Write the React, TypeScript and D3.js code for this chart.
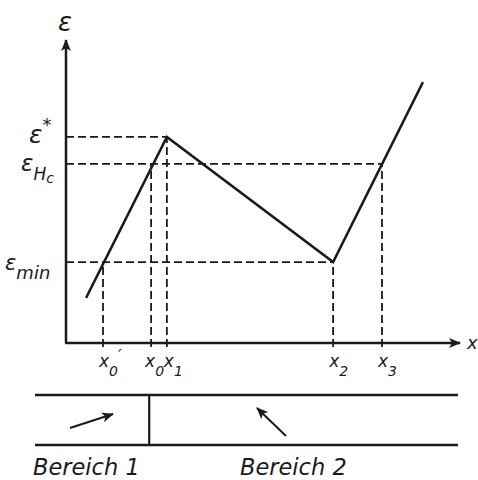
import * as d3 from "d3";
import React, { useEffect, useRef } from "react";

// curve of epsilon over x (abstract units, 0..100 on both axes)
const curveX = [5.1, 25.6, 67.8, 90.6];
const curveY = [14.9, 68, 26.7, 86.1];

// named positions on the x axis: [base, subscript, prime]
const tickNames: [string, string, string][] = [
    ["x", "0", "′"],
    ["x", "0", ""],
    ["x", "1", ""],
    ["x", "2", ""],
    ["x", "3", ""],
];
const tickX = [9.4, 21.6, 25.6, 67.8, 80.2];
const tickY = [26.7, 59.1, 68, 26.7, 59.1]; // height the dashed vertical goes up to

// levels on the epsilon axis
const levelY = [68, 59.1, 26.7];
const levelEndX = [25.6, 80.2, 67.8];

// lower strip: boundary between the two regions
const regionBoundary = 27;
const regionNames = ["Bereich 1", "Bereich 2"];

const FONT = "'DejaVu Sans', sans-serif";

const App = () => {
    const svgRef = useRef<SVGSVGElement>(null);

    useEffect(() => {
        const width = 478;
        const height = 480;

        const svg = d3.select(svgRef.current);
        svg.selectAll("*").remove();
        svg.attr("width", width).attr("height", height);

        const x = d3.scaleLinear().domain([0, 100]).range([66, 460]);
        const y = d3.scaleLinear().domain([0, 100]).range([343, 40]);

        const ink = "#1a1a1a";
        const dash = "8,4";

        // arrow heads
        const defs = svg.append("defs");
        defs.append("marker")
            .attr("id", "arrow")
            .attr("viewBox", "0 0 12 10")
            .attr("refX", 11)
            .attr("refY", 5)
            .attr("markerWidth", 12)
            .attr("markerHeight", 10)
            .attr("markerUnits", "userSpaceOnUse")
            .attr("orient", "auto")
            .append("path")
            .attr("d", "M0,0 L12,5 L0,10 L3,5 Z")
            .attr("fill", ink);

        // axes
        svg.append("line")
            .attr("x1", x(0)).attr("y1", y(0))
            .attr("x2", x(0)).attr("y2", y(100))
            .attr("stroke", ink).attr("stroke-width", 2.5)
            .attr("marker-end", "url(#arrow)");
        svg.append("line")
            .attr("x1", x(0) - 1).attr("y1", y(0))
            .attr("x2", x(100)).attr("y2", y(0))
            .attr("stroke", ink).attr("stroke-width", 2.5)
            .attr("marker-end", "url(#arrow)");

        // dashed helper lines
        levelY.forEach((v, i) => {
            svg.append("line")
                .attr("x1", x(0)).attr("y1", y(v))
                .attr("x2", x(levelEndX[i])).attr("y2", y(v))
                .attr("stroke", ink).attr("stroke-width", 1.8)
                .attr("stroke-dasharray", dash);
        });
        tickX.forEach((v, i) => {
            svg.append("line")
                .attr("x1", x(v)).attr("y1", y(0) + 4)
                .attr("x2", x(v)).attr("y2", y(tickY[i]))
                .attr("stroke", ink).attr("stroke-width", 1.8)
                .attr("stroke-dasharray", dash);
        });

        // the curve
        const line = d3.line<number>()
            .x((d) => x(d))
            .y((_, i) => y(curveY[i]));
        svg.append("path")
            .datum(curveX)
            .attr("d", line)
            .attr("fill", "none")
            .attr("stroke", ink)
            .attr("stroke-width", 2.5)
            .attr("stroke-linejoin", "miter");

        const txt = (sx: number, sy: number, size: number) =>
            svg.append("text")
                .attr("x", sx).attr("y", sy)
                .attr("font-family", FONT)
                .attr("font-style", "italic")
                .attr("font-size", size)
                .attr("fill", ink);

        // axis labels
        txt(x(0) - 8, 31, 26).text("ε");
        txt(467, y(0) + 6, 18).text("x");

        // level labels
        const star = txt(29, y(levelY[0]) + 6, 25);
        star.append("tspan").text("ε");
        star.append("tspan").attr("font-size", 18).attr("dy", -12).text("*");

        const hc = txt(21, y(levelY[1]) + 7, 23);
        hc.append("tspan").text("ε");
        hc.append("tspan").attr("font-size", 17).attr("dy", 9).text("H");
        hc.append("tspan").attr("font-size", 14).attr("dy", 3).text("c");

        const mn = txt(5, y(levelY[2]) + 8, 21);
        mn.append("tspan").text("ε");
        mn.append("tspan").attr("font-size", 18).attr("dy", 9).text("min");

        // tick labels
        tickNames.forEach(([base, sub, prime], i) => {
            const px = x(tickX[i]);
            const prevClose = i > 0 && px - x(tickX[i - 1]) < 20;
            const nextClose = i < tickX.length - 1 && x(tickX[i + 1]) - px < 20;
            const shift = (prevClose ? 1 : 0) - (nextClose ? 2 : 0);
            const t = txt(px - 4 + shift, y(0) + 24, 17);
            t.append("tspan").text(base);
            t.append("tspan").attr("font-size", 14).attr("dy", 9).text(sub);
            if (prime) {
                t.append("tspan").attr("font-size", 16).attr("dy", -15).attr("dx", 0).text(prime);
            }
        });

        // lower strip
        const sx = d3.scaleLinear().domain([0, 100]).range([35, 458]);
        const top = 395;
        const bottom = 445;
        [top, bottom].forEach((ly) => {
            svg.append("line")
                .attr("x1", sx(0)).attr("y1", ly)
                .attr("x2", sx(100)).attr("y2", ly)
                .attr("stroke", ink).attr("stroke-width", 2.5);
        });
        svg.append("line")
            .attr("x1", sx(regionBoundary)).attr("y1", top)
            .attr("x2", sx(regionBoundary)).attr("y2", bottom)
            .attr("stroke", ink).attr("stroke-width", 2.2);

        svg.append("line")
            .attr("x1", 70).attr("y1", 428)
            .attr("x2", 113).attr("y2", 414)
            .attr("stroke", ink).attr("stroke-width", 2)
            .attr("marker-end", "url(#arrow)");
        svg.append("line")
            .attr("x1", 286).attr("y1", 436)
            .attr("x2", 257).attr("y2", 408)
            .attr("stroke", ink).attr("stroke-width", 2)
            .attr("marker-end", "url(#arrow)");

        txt(33, 475, 22.5).text(regionNames[0]);
        txt(240, 475, 22.5).text(regionNames[1]);
    }, []);

    return (
        <svg
            ref={svgRef}
            style={{ position: "absolute", left: 0, top: 0, background: "#fff" }}
        />
    );
};

export default App;
